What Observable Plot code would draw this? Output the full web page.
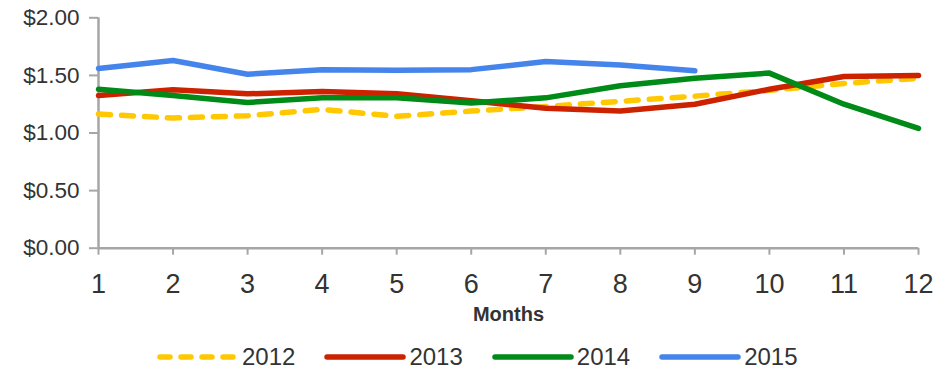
<!DOCTYPE html>
<html>
<head>
<meta charset="utf-8">
<script src="https://cdn.jsdelivr.net/npm/d3@7"></script>
<script src="https://cdn.jsdelivr.net/npm/@observablehq/plot@0.6"></script>
<style>
  html, body { margin: 0; padding: 0; background: #fff; }
  body { width: 949px; height: 371px; overflow: hidden; font-family: "Liberation Sans", Arial, sans-serif; color: #333; }
  #legend { display: flex; gap: 29px; padding-left: 157px; padding-top: 14px; height: 26px; align-items: center; }
  .item { display: flex; align-items: center; gap: 3px; font-size: 24px; line-height: 26px; }
  .item svg { display: block; }
</style>
</head>
<body>
<div id="chart"></div>
<div id="legend"></div>
<script>
// Monthly average price, one series per year
const months = [1, 2, 3, 4, 5, 6, 7, 8, 9, 10, 11, 12];
const years = ["2012", "2013", "2014", "2015"];
const price2012 = [1.165, 1.13, 1.15, 1.205, 1.145, 1.19, 1.23, 1.275, 1.32, 1.37, 1.43, 1.475];
const price2013 = [1.325, 1.375, 1.34, 1.36, 1.34, 1.28, 1.215, 1.19, 1.25, 1.38, 1.49, 1.50];
const price2014 = [1.38, 1.325, 1.265, 1.305, 1.305, 1.26, 1.305, 1.41, 1.475, 1.52, 1.25, 1.04];
const price2015 = [1.56, 1.63, 1.51, 1.55, 1.545, 1.55, 1.62, 1.59, 1.54];
const yTicks = [0, 0.5, 1, 1.5, 2];

const colors = { "2012": "#ffc800", "2013": "#cc2200", "2014": "#008a17", "2015": "#4584ea" };
const dashes = { "2012": "12,11", "2013": null, "2014": null, "2015": null };
const seriesValues = { "2012": price2012, "2013": price2013, "2014": price2014, "2015": price2015 };

const rows = years.flatMap(year =>
  seriesValues[year].map((price, i) => ({ year, month: months[i], price }))
);

const axisColor = "#a6a6a6";
const money = d => "$" + d3.format(".2f")(d);

const chart = Plot.plot({
  width: 949,
  height: 330,
  marginLeft: 98,
  marginRight: 31,
  marginTop: 17.3,
  marginBottom: 82.3,
  style: { fontFamily: "Liberation Sans, Arial, sans-serif", color: "#333", background: "#fff" },
  x: { domain: [1, 12] },
  y: { domain: [0, 2] },
  marks: [
    Plot.axisY({ ticks: yTicks, tickFormat: money, tickSize: 9, tickPadding: 10, fontSize: 22.5, stroke: axisColor, strokeWidth: 2, strokeOpacity: 1, label: null }),
    Plot.axisX({ ticks: months, tickFormat: d3.format("d"), tickSize: 7, tickPadding: 19, fontSize: 27, stroke: axisColor, strokeWidth: 2, strokeOpacity: 1, label: null }),
    Plot.ruleX([1], { stroke: axisColor, strokeWidth: 2.5 }),
    Plot.ruleY([0], { stroke: axisColor, strokeWidth: 2.5 }),
    ...years.map(year =>
      Plot.line(rows.filter(r => r.year === year), {
        x: "month",
        y: "price",
        stroke: colors[year],
        strokeWidth: 5.5,
        strokeLinecap: "round",
        strokeLinejoin: "round",
        strokeDasharray: dashes[year] ?? undefined
      })
    ),
    Plot.text(["Months"], { frameAnchor: "bottom", dy: 66, lineAnchor: "middle", fontSize: 20, fontWeight: "bold", fill: "#333" })
  ]
});
document.getElementById("chart").appendChild(chart);

// Legend row under the plot
const legend = d3.select("#legend");
for (const year of years) {
  const item = legend.append("div").attr("class", "item");
  const sw = item.append("svg").attr("width", 82).attr("height", 12);
  sw.append("line")
    .attr("x1", 3).attr("x2", 79).attr("y1", 6).attr("y2", 6)
    .attr("stroke", colors[year]).attr("stroke-width", 5.5)
    .attr("stroke-linecap", "round")
    .attr("stroke-dasharray", dashes[year] ? "10,11" : null);
  item.append("span").text(year);
}
</script>
</body>
</html>
